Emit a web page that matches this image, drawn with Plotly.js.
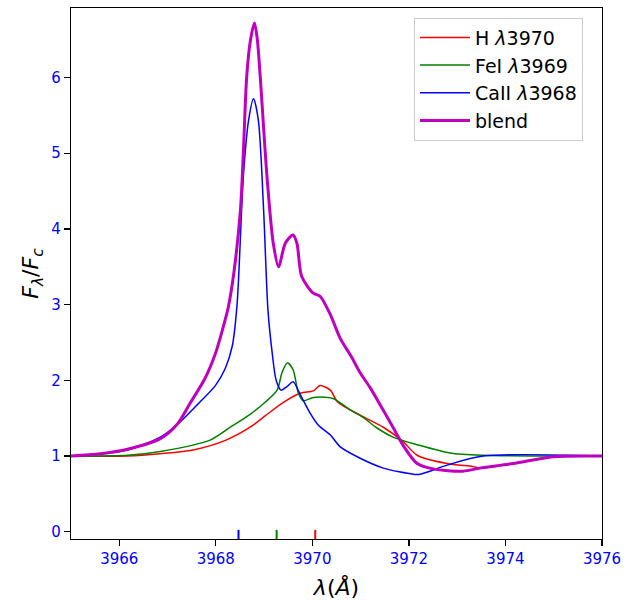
<!DOCTYPE html>
<html>
<head>
<meta charset="utf-8">
<script src="https://cdn.plot.ly/plotly-3.0.1.min.js"></script>
<style>html,body{margin:0;padding:0;background:#fff;}#chart{width:638px;height:601px;}</style>
</head>
<body>
<div id="chart"></div>
<script>
// Wavelengths (Å) and normalized flux values
const blendLam = [3965.00, 3965.61, 3966.17, 3966.85, 3967.20, 3967.47, 3967.78, 3967.99, 3968.13, 3968.26, 3968.38, 3968.51, 3968.57, 3968.64, 3968.72, 3968.80, 3968.86, 3968.92, 3969.06, 3969.19, 3969.30, 3969.44, 3969.60, 3969.68, 3969.78, 3970.02, 3970.16, 3970.37, 3970.58, 3970.80, 3970.99, 3971.20, 3971.40, 3971.67, 3971.90, 3972.17, 3972.50, 3973.12, 3973.47, 3974.16, 3974.99, 3976.00];
const blendFlux = [1.0, 1.03, 1.09, 1.23, 1.42, 1.70, 2.03, 2.35, 2.65, 2.97, 3.45, 4.25, 5.0, 6.01, 6.5, 6.72, 6.5, 6.01, 4.69, 3.81, 3.5, 3.81, 3.92, 3.81, 3.37, 3.15, 3.11, 2.87, 2.55, 2.32, 2.1, 1.9, 1.68, 1.38, 1.12, 0.9, 0.83, 0.8, 0.84, 0.9, 0.99, 1.0];

const hLam = [3965.00, 3966.17, 3966.85, 3967.53, 3968.21, 3968.71, 3969.02, 3969.40, 3969.75, 3970.02, 3970.16, 3970.37, 3970.53, 3970.99, 3971.47, 3971.88, 3972.17, 3972.79, 3973.33, 3973.47, 3974.16, 3974.99, 3976.00];
const hFlux = [1.0, 1.0, 1.03, 1.08, 1.21, 1.38, 1.53, 1.71, 1.83, 1.86, 1.93, 1.87, 1.71, 1.54, 1.38, 1.19, 1.01, 0.9, 0.86, 0.84, 0.9, 0.99, 1.0];

const feLam = [3965.00, 3966.17, 3966.85, 3967.88, 3968.30, 3968.71, 3969.02, 3969.27, 3969.37, 3969.48, 3969.60, 3969.71, 3969.81, 3970.00, 3970.16, 3970.43, 3970.78, 3971.05, 3971.34, 3971.67, 3972.17, 3972.85, 3973.54, 3976.00];
const feFlux = [1.0, 1.01, 1.06, 1.21, 1.38, 1.55, 1.71, 1.87, 2.1, 2.23, 2.14, 1.83, 1.73, 1.77, 1.78, 1.76, 1.61, 1.51, 1.37, 1.25, 1.15, 1.04, 1.01, 1.0];

const caLam = [3965.00, 3965.61, 3966.17, 3966.85, 3967.26, 3967.68, 3967.99, 3968.19, 3968.34, 3968.44, 3968.57, 3968.68, 3968.78, 3968.88, 3968.99, 3969.08, 3969.17, 3969.25, 3969.35, 3969.48, 3969.60, 3969.75, 3969.95, 3970.12, 3970.37, 3970.58, 3970.99, 3971.47, 3972.09, 3972.23, 3972.79, 3973.54, 3976.00];
const caFlux = [1.0, 1.03, 1.08, 1.25, 1.45, 1.72, 1.93, 2.15, 2.45, 3.0, 4.69, 5.44, 5.72, 5.44, 4.25, 2.93, 2.35, 2.0, 1.87, 1.92, 1.98, 1.81, 1.57, 1.41, 1.28, 1.12, 0.97, 0.84, 0.76, 0.76, 0.88, 1.0, 1.0];

// Rest wavelengths of the three lines (bottom markers)
const lineNames = ["CaII", "FeI", "H"];
const lineCenters = [3968.47, 3969.26, 3970.06];
const lineColors = ["#0000ff", "#008000", "#ff0000"];
const markerSpan = [-0.1, 0.025];

const seriesNames = ["H <i>λ</i>3970", "FeI <i>λ</i>3969", "CaII <i>λ</i>3968", "blend"];
const xTicks = [3966, 3968, 3970, 3972, 3974, 3976];
const yTicks = [0, 1, 2, 3, 4, 5, 6];

const traces = [];
lineCenters.forEach((c, i) => {
  traces.push({x: [c, c], y: markerSpan, mode: 'lines', line: {color: lineColors[i], width: 2},
    showlegend: false, hoverinfo: 'skip', cliponaxis: false});
});
const sp = {shape: 'spline', smoothing: 0.8};
traces.push({x: hLam, y: hFlux, mode: 'lines', name: seriesNames[0], line: Object.assign({color: '#ff0000', width: 1.5}, sp)});
traces.push({x: feLam, y: feFlux, mode: 'lines', name: seriesNames[1], line: Object.assign({color: '#008000', width: 1.5}, sp)});
traces.push({x: caLam, y: caFlux, mode: 'lines', name: seriesNames[2], line: Object.assign({color: '#0000ff', width: 1.5}, sp)});
traces.push({x: blendLam, y: blendFlux, mode: 'lines', name: seriesNames[3], line: Object.assign({color: '#bf00bf', width: 3}, sp)});

const layout = {
  width: 638, height: 601,
  margin: {l: 71, r: 36, t: 8, b: 62},
  paper_bgcolor: '#fff', plot_bgcolor: '#fff',
  font: {family: 'DejaVu Sans', color: '#000'},
  showlegend: true,
  legend: {x: 0.646, y: 0.982, xanchor: 'left', yanchor: 'top', bgcolor: '#fff',
    bordercolor: '#cccccc', borderwidth: 1, font: {size: 19, color: '#000'}, tracegroupgap: 0,
    itemwidth: 50},
  xaxis: {range: [3965, 3976], tickvals: xTicks, ticktext: xTicks.map(String),
    showgrid: false, zeroline: false, showline: true, mirror: true, linecolor: '#000', linewidth: 1.3,
    ticks: 'outside', ticklen: 6, tickwidth: 1.3, tickcolor: '#000',
    tickfont: {size: 15, color: '#0000ff'},
    title: {text: '<i>λ</i>(<i>Å</i>)', font: {size: 22, color: '#000'}, standoff: 12}},
  yaxis: {range: [-0.096, 6.917], tickvals: yTicks, ticktext: yTicks.map(String),
    showgrid: false, zeroline: false, showline: true, mirror: true, linecolor: '#000', linewidth: 1.3,
    ticks: 'outside', ticklen: 6, tickwidth: 1.3, tickcolor: '#000',
    tickfont: {size: 15, color: '#0000ff'},
    title: {text: '<i>F</i><sub><i>λ</i></sub>/<i>F</i><sub><i>c</i></sub>', font: {size: 22, color: '#000'}, standoff: 6}}
};

Plotly.newPlot('chart', traces, layout, {displayModeBar: false, staticPlot: true});
</script>
</body>
</html>
